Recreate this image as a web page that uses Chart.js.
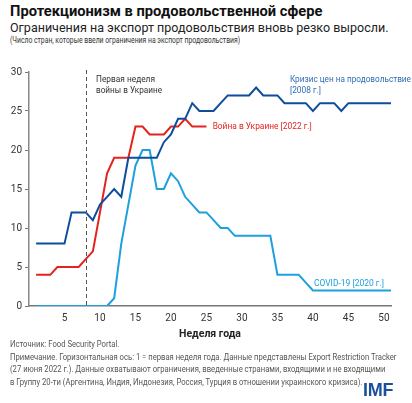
<!DOCTYPE html>
<html>
<head>
<meta charset="utf-8">
<script src="https://cdn.jsdelivr.net/npm/chart.js@4.4.0/dist/chart.umd.min.js"></script>
<style>
  body { margin: 0; width: 412px; height: 403px; background: #fff; font-family: Roboto, sans-serif; overflow: hidden; position: relative; }
  .fit { position: absolute; left: 10px; white-space: nowrap; transform-origin: 0 0; }
  #title { top: 2px; font-size: 15.5px; font-weight: bold; color: #111; }
  #subtitle { top: 19px; font-size: 13.5px; color: #222; }
  #note { top: 35px; font-size: 8.6px; color: #333; }
  #chartBox { position: absolute; left: 0; top: 60px; width: 412px; height: 282px; }
  #footer { top: 338px; font-size: 9.3px; line-height: 12.6px; color: #555; }
  #imf { position: absolute; left: 363px; top: 380px; font-size: 18px; font-weight: 900; color: #1a4f9c; font-family: "Liberation Sans", sans-serif; letter-spacing: -0.3px; }
</style>
</head>
<body>
<div id="title" class="fit" data-w="312">Протекционизм в продовольственной сфере</div>
<div id="subtitle" class="fit" data-w="379">Ограничения на экспорт продовольствия вновь резко выросли.</div>
<div id="note" class="fit" data-w="230">(Число стран, которые ввели ограничения на экспорт продовольствия)</div>
<div id="chartBox"><canvas id="chart"></canvas></div>
<div id="footer" class="fit">Источник: Food Security Portal.<br><span id="longLine">Примечание. Горизонтальная ось: 1 = первая неделя года. Данные представлены Export Restriction Tracker</span><br>(27 июня 2022 г.). Данные охватывают ограничения, введенные странами, входящими и не входящими<br>в Группу 20-ти (Аргентина, Индия, Индонезия, Россия, Турция в отношении украинского кризиса).</div>
<div id="imf">IMF</div>
<script>
// weeks of the year
const weeks = Array.from({ length: 51 }, (_, i) => i + 1);

// Food price crisis 2008
const crisis2008 = [8, 8, 8, 8, 8, 12, 12, 12, 11, 13, 14, 15, 14, 19, 19, 19, 19, 19, 21, 22,
  24, 24, 26, 25, 25, 25, 26, 27, 27, 27, 27, 28, 27, 27, 27, 26, 26, 26, 26, 25,
  26, 26, 26, 25, 26, 26, 26, 26, 26, 26, 26];

// War in Ukraine 2022 (weeks 1-25)
const war2022 = [4, 4, 4, 5, 5, 5, 5, 6, 7, 12, 17, 19, 19, 19, 23, 23, 22, 22, 22, 23,
  23, 24, 23, 23, 23];

// COVID-19 2020
const covid2020 = [0, 0, 0, 0, 0, 0, 0, 0, 0, 0, 0, 1, 8, 13, 18, 20, 20, 15, 15, 17,
  16, 14, 13, 12, 12, 11, 10, 10, 9, 9, 9, 9, 9, 9, 4, 4, 4, 4, 3, 2,
  2, 2, 2, 2, 2, 2, 2, 2, 2, 2, 2];

const yTicks = [0, 5, 10, 15, 20, 25, 30];
const xTicks = [5, 10, 15, 20, 25, 30, 35, 40, 45, 50];
const warStartWeek = 8;

// squeeze the html text blocks to the widths of the original
document.querySelectorAll('.fit[data-w]').forEach(el => {
  el.style.transform = 'scaleX(' + (el.dataset.w / el.scrollWidth) + ')';
});
const footer = document.getElementById('footer');
footer.style.transform = 'scaleX(' + (386 / document.getElementById('longLine').offsetWidth) + ')';

function toPoints(values) {
  return values.map((v, i) => ({ x: weeks[i], y: v }));
}

// dashed line at the first week of the war + text labels
const annotations = {
  id: 'annotations',
  afterDatasetsDraw(chart) {
    const { ctx, scales: { x, y }, chartArea } = chart;
    ctx.save();
    const px = Math.round(x.getPixelForValue(warStartWeek)) + 0.5;
    ctx.strokeStyle = '#555';
    ctx.lineWidth = 1;
    ctx.setLineDash([4, 3]);
    ctx.beginPath();
    ctx.moveTo(px, chartArea.top - 2);
    ctx.lineTo(px, chartArea.bottom);
    ctx.stroke();
    ctx.setLineDash([]);

    ctx.font = '9.6px Roboto, sans-serif';
    ctx.textBaseline = 'middle';
    const label = (text, wx, wy, maxW) => {
      ctx.fillText(text, x.getPixelForValue(wx), y.getPixelForValue(wy), maxW);
    };
    ctx.fillStyle = '#333';
    label('Первая неделя', 9.44, 29.06, 59);
    label('войны в Украине', 9.44, 27.6, 66);

    ctx.fillStyle = '#2f6db5';
    label('Кризис цен на продовольствие', 36.76, 29.06, 121);
    label('[2008 г.]', 36.76, 27.6, 31);

    ctx.fillStyle = '#e3231e';
    label('Война в Украине [2022 г.]', 25.87, 23.0, 99);

    ctx.fillStyle = '#1ea0de';
    label('COVID-19 [2020 г.]', 40.14, 2.82, 70);
    ctx.restore();
  }
};

new Chart(document.getElementById('chart'), {
  type: 'line',
  data: {
    datasets: [
      { label: 'Кризис цен на продовольствие [2008 г.]', data: toPoints(crisis2008), borderColor: '#0d4d9e', borderWidth: 2 },
      { label: 'Война в Украине [2022 г.]', data: toPoints(war2022), borderColor: '#e3231e', borderWidth: 2 },
      { label: 'COVID-19 [2020 г.]', data: toPoints(covid2020), borderColor: '#1ea0de', borderWidth: 2 }
    ]
  },
  options: {
    responsive: true,
    maintainAspectRatio: false,
    animation: false,
    layout: { padding: { top: 12, right: 21, left: 0, bottom: 0 } },
    elements: { point: { radius: 0 }, line: { tension: 0, borderJoinStyle: 'miter' } },
    plugins: { legend: { display: false }, tooltip: { enabled: false } },
    scales: {
      x: {
        type: 'linear',
        min: 0,
        max: 51,
        afterBuildTicks(scale) { scale.ticks = xTicks.map(v => ({ value: v })); },
        afterFit(scale) { scale.height = 36; },
        grid: { display: false, drawTicks: false },
        border: { display: true, color: '#777', width: 1.5 },
        ticks: { color: '#333', font: { size: 10, family: 'Roboto, sans-serif' }, padding: 6, maxRotation: 0 },
        title: { display: true, text: 'Неделя года', color: '#222', font: { size: 10.5, weight: 'bold', family: 'Roboto, sans-serif' }, padding: { top: 0, bottom: 1 } }
      },
      y: {
        min: 0,
        max: 30,
        afterBuildTicks(scale) { scale.ticks = yTicks.map(v => ({ value: v })); },
        afterFit(scale) { scale.width = 29; },
        grid: { drawOnChartArea: false, drawTicks: true, tickLength: 4, color: '#777' },
        border: { display: true, color: '#888', width: 1.5 },
        ticks: { color: '#333', font: { size: 10, family: 'Roboto, sans-serif' }, padding: 3 }
      }
    }
  },
  plugins: [annotations]
});
</script>
</body>
</html>
